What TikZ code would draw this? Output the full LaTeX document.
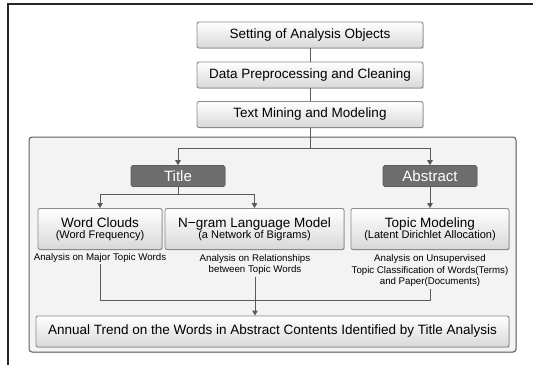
\documentclass[tikz,border=0pt]{standalone}
\usepackage{fontspec}
\setmainfont{Liberation Sans}
\usetikzlibrary{arrows.meta,shadows}
\definecolor{linec}{HTML}{595959}
\definecolor{boxborder}{HTML}{8A8A8A}
\definecolor{boxbottom}{HTML}{D8D8D8}
\definecolor{darkbox}{HTML}{6D6D6D}
\definecolor{contfill}{HTML}{F3F3F3}
\definecolor{contborder}{HTML}{5E5E5E}
\tikzset{
  lightbox/.style={draw=boxborder, line width=0.9pt, rounded corners=2pt,
    top color=white, bottom color=boxbottom, inner sep=0pt, align=center,
    drop shadow={shadow xshift=0.8pt, shadow yshift=-0.9pt, opacity=0.35}},
  darkbox/.style={draw=darkbox!85!black, line width=0.6pt, rounded corners=1.5pt,
    fill=darkbox, text=white, inner sep=0pt, align=center,
    font=\fontsize{15}{17}\selectfont,
    drop shadow={shadow xshift=0.6pt, shadow yshift=-0.7pt, opacity=0.3}},
  note/.style={inner sep=1.5pt, align=center, font=\fontsize{9.7}{11.9}\selectfont},
  conn/.style={draw=linec, line width=1pt},
  arr/.style={conn, -{Triangle[length=5pt,width=5.5pt]}},
  big/.style={font=\fontsize{13.5}{15}\selectfont},
}
\begin{document}
\begin{tikzpicture}[x=1pt,y=-1pt]
\useasboundingbox (0,0) rectangle (533,365);
\fill[white] (0,0) rectangle (533,365);
% outer frame (partly visible)
\draw[black!85, line width=1.2pt] (8,365) -- (8,4) -- (533,4);
% container
\draw[contborder, line width=1pt, rounded corners=3pt, fill=contfill,
  drop shadow={shadow xshift=0.8pt, shadow yshift=-0.8pt, opacity=0.25}]
  (29,137) rectangle (516,352);
% top chain
\node[lightbox, big, minimum width=226pt, minimum height=26pt] (s1) at (310,35) {Setting of Analysis Objects};
\node[lightbox, big, minimum width=226pt, minimum height=26pt] (s2) at (310,75) {Data Preprocessing and Cleaning};
\node[lightbox, big, minimum width=226pt, minimum height=26pt] (s3) at (310,114.5) {Text Mining and Modeling};
% title / abstract
\node[darkbox, minimum width=94pt, minimum height=21pt] (title) at (178,176) {Title};
\node[darkbox, minimum width=94pt, minimum height=21pt] (abstract) at (430,176) {Abstract};
% method boxes
\node[lightbox, minimum width=124pt, minimum height=41pt] (wc) at (100,229)
  {{\fontsize{13.5}{15}\selectfont Word Clouds}\\[-0.5pt]{\fontsize{11}{13}\selectfont (Word Frequency)}};
\node[lightbox, minimum width=179pt, minimum height=41pt] (ng) at (254.5,229)
  {{\fontsize{13.5}{15}\selectfont N−gram Language Model}\\[-0.5pt]{\fontsize{11}{13}\selectfont (a Network of Bigrams)}};
\node[lightbox, minimum width=158pt, minimum height=41pt] (tm) at (430,229)
  {{\fontsize{13.5}{15}\selectfont Topic Modeling}\\[-0.5pt]{\fontsize{11}{13}\selectfont (Latent Dirichlet Allocation)}};
% notes
\node[note] (t1) at (100,258) {Analysis on Major Topic Words};
\node[note] (t2) at (255,264.5) {Analysis on Relationships\\between Topic Words};
\node[note] (t3) at (430,270.5) {Analysis on Unsupervised\\Topic Classification of Words(Terms)\\and Paper(Documents)};
% final
\node[lightbox, big, minimum width=473pt, minimum height=31pt] (final) at (272.5,331.5)
  {Annual Trend on the Words in Abstract Contents Identified by Title Analysis};
% connectors
\draw[conn] (s1.south) -- (s2.north);
\draw[conn] (s2.south) -- (s3.north);
\coordinate (j1) at (310,148);
\draw[conn] (s3.south) -- (j1);
\draw[arr] (j1) -| (title.north);
\draw[arr] (j1) -| (abstract.north);
\coordinate (j2) at (178,194);
\draw[conn] (title.south) -- (j2);
\draw[arr] (j2) -| (wc.north);
\draw[arr] (j2) -| (ng.north);
\draw[arr] (abstract.south) -- (tm.north);
\coordinate (j3) at (255,300);
\draw[conn] (t1.south) -- (t1.south |- j3) -- (t3.south |- j3) -- (t3.south);
\draw[arr] (t2.south) -- (t2.south |- final.north);
\end{tikzpicture}
\end{document}
